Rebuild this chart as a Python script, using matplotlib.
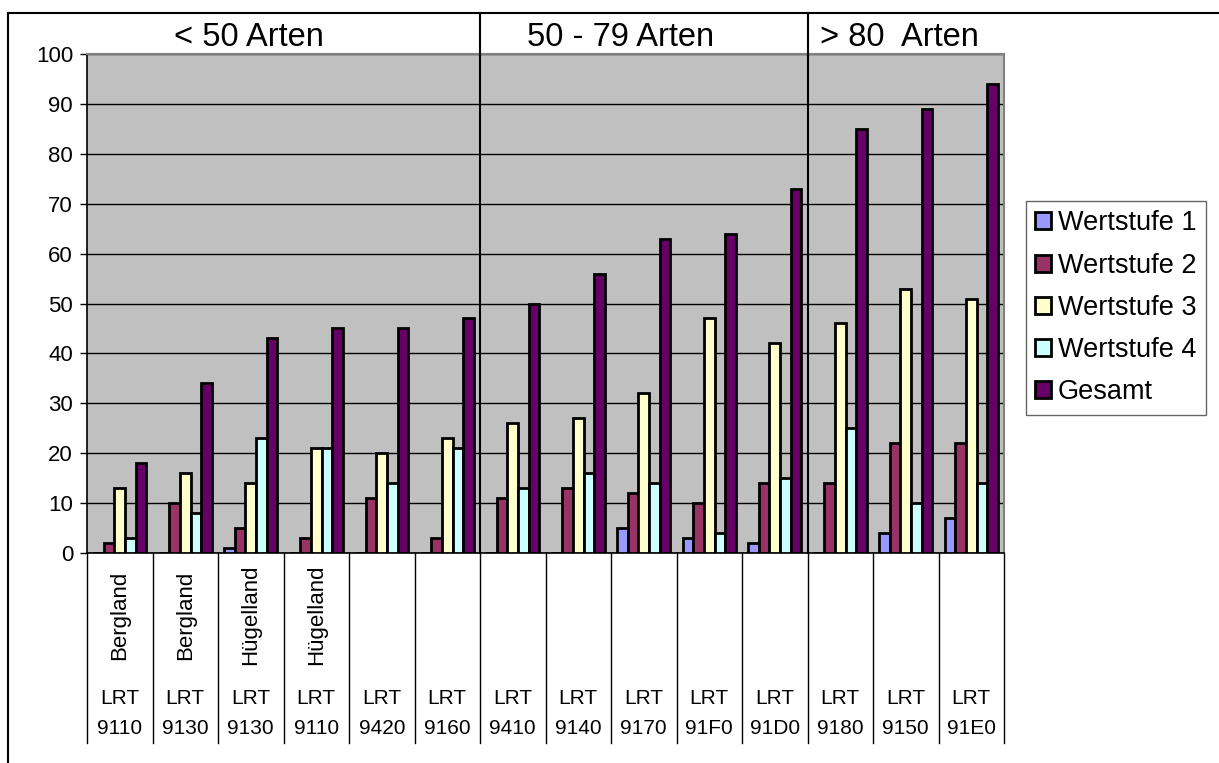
import matplotlib
matplotlib.use('Agg')
import numpy as np
import matplotlib.pyplot as plt
from matplotlib.lines import Line2D

plt.rcParams['font.family'] = ['Liberation Sans', 'DejaVu Sans']

codes = ['9110', '9130', '9130', '9110', '9420', '9160', '9410', '9140',
         '9170', '91F0', '91D0', '9180', '9150', '91E0']
regions = ['Bergland', 'Bergland', 'Hügelland', 'Hügelland', '', '', '', '',
           '', '', '', '', '', '']

wert1 = [0, 0, 1, 0, 0, 0, 0, 0, 5, 3, 2, 0, 4, 7]
wert2 = [2, 10, 5, 3, 11, 3, 11, 13, 12, 10, 14, 14, 22, 22]
wert3 = [13, 16, 14, 21, 20, 23, 26, 27, 32, 47, 42, 46, 53, 51]
wert4 = [3, 8, 23, 21, 14, 21, 13, 16, 14, 4, 15, 25, 10, 14]
gesamt = [18, 34, 43, 45, 45, 47, 50, 56, 63, 64, 73, 85, 89, 94]

series = [wert1, wert2, wert3, wert4, gesamt]
names = ['Wertstufe 1', 'Wertstufe 2', 'Wertstufe 3', 'Wertstufe 4', 'Gesamt']
colors = ['#9999FF', '#993366', '#FFFFCC', '#CCFFFF', '#660066']

groups = ['< 50 Arten', '50 - 79 Arten', '> 80  Arten']
group_sizes = [6, 5, 3]

W, H = 1219, 763
fig = plt.figure(figsize=(W / 100, H / 100), dpi=100)
ax_l, ax_r, ax_t, ax_b = 87, 1004, 54, 553
ax = fig.add_axes([ax_l / W, 1 - ax_b / H, (ax_r - ax_l) / W, (ax_b - ax_t) / H])
ax.set_facecolor('#C0C0C0')

n = len(codes)
x = np.arange(n)
bw = 0.162
for k, (vals, name, col) in enumerate(zip(series, names, colors)):
    ax.bar(x + (k - 2) * bw, vals, bw, color=col, edgecolor='black',
           linewidth=2, label=name, zorder=3)

ax.set_xlim(-0.5, n - 0.5)
ax.set_ylim(0, 100)
ax.set_yticks(range(0, 101, 10))
ax.tick_params(axis='y', length=5, width=1, labelsize=16, pad=5)
ax.set_xticks([])
ax.grid(axis='y', color='black', linewidth=1, zorder=1)
for s in ['top', 'right']:
    ax.spines[s].set_color('#808080')
    ax.spines[s].set_linewidth(1.5)
for s in ['left', 'bottom']:
    ax.spines[s].set_color('black')
    ax.spines[s].set_linewidth(1.2)

# cell lines below the axis
trans = ax.get_xaxis_transform()
y_low = (ax_b - 743) / (ax_b - ax_t)
for i in range(n + 1):
    ax.add_line(Line2D([i - 0.5, i - 0.5], [0, y_low], transform=trans,
                       color='black', linewidth=1, clip_on=False))

# group dividers up to the frame
y_top = (ax_b - 13) / (ax_b - ax_t)
pos = -0.5
for g in group_sizes[:-1]:
    pos += g
    ax.add_line(Line2D([pos, pos], [0, y_top], transform=trans,
                       color='black', linewidth=1.5, clip_on=False, zorder=5))

for i in range(n):
    if regions[i]:
        ax.text(i, (ax_b - 615) / (ax_b - ax_t), regions[i], transform=trans,
                rotation=90, ha='center', va='center', fontsize=16)
    ax.text(i, (ax_b - 698) / (ax_b - ax_t), 'LRT', transform=trans,
            ha='center', va='center', fontsize=15)
    ax.text(i, (ax_b - 728) / (ax_b - ax_t), codes[i], transform=trans,
            ha='center', va='center', fontsize=15)

# group headers
for label, px in zip(groups, [249, 621, 899]):
    fig.text(px / W, 1 - 37 / H, label, ha='center', va='center', fontsize=23.5)

# outer frame (left and top)
fig.add_artist(Line2D([8 / W, 8 / W], [0, 1 - 13 / H], color='black', linewidth=1.5))
fig.add_artist(Line2D([8 / W, 1], [1 - 13 / H, 1 - 13 / H], color='black', linewidth=1.5))

leg = fig.legend(loc='upper left', bbox_to_anchor=(1026 / W, 1 - 201 / H),
                 fontsize=19.5, frameon=True, fancybox=False, edgecolor='#404040',
                 handlelength=0.58, handleheight=0.58, handletextpad=0.25,
                 labelspacing=0.6, borderpad=0.35, borderaxespad=0)
leg.get_frame().set_linewidth(1)

fig.savefig('out.png', dpi=100)
